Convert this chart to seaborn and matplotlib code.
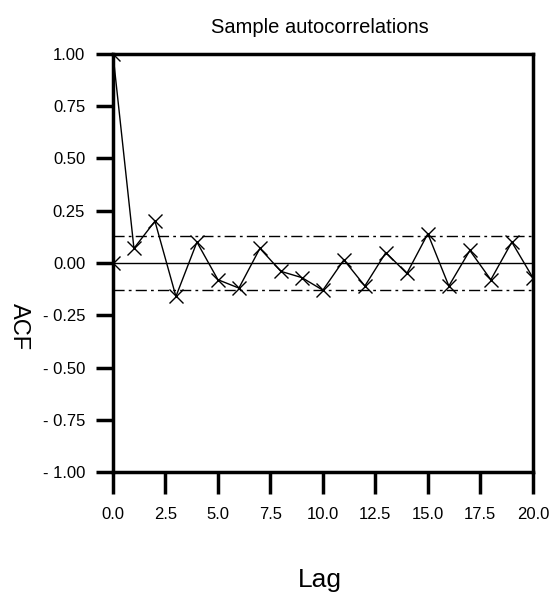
import pandas as pd
import numpy as np
import matplotlib
matplotlib.use('Agg')
import matplotlib.pyplot as plt
import seaborn as sns

# ACF values
lags = list(range(21))
acf = [1.00, 0.07, 0.20, -0.16, 0.10, -0.08, -0.12, 0.07, -0.04, -0.07,
       -0.13, 0.015, -0.11, 0.05, -0.05, 0.14, -0.11, 0.06, -0.08, 0.10, -0.07]
conf_band = 0.13
x_ticks = [0.0, 2.5, 5.0, 7.5, 10.0, 12.5, 15.0, 17.5, 20.0]
y_ticks = [1.00, 0.75, 0.50, 0.25, 0.00, -0.25, -0.50, -0.75, -1.00]

sns.set_style('white')
plt.rcParams['font.family'] = ['Liberation Sans', 'DejaVu Sans']
plt.rcParams['text.color'] = 'black'

df = pd.DataFrame({'lag': lags, 'acf': acf})

fig = plt.figure(figsize=(5.51, 6.05), dpi=100)
ax = fig.add_axes([0.205, 0.2198, 0.762, 0.691])

sns.lineplot(data=df, x='lag', y='acf', ax=ax, color='black', linewidth=1.0,
             marker='x', markersize=10, markeredgewidth=1.0, markeredgecolor='black')
# lone marker at lag 0 on the zero line
ax.plot([0], [0], marker='x', color='black', markersize=10, markeredgewidth=1.0)

ax.axhline(0, color='black', linewidth=1.0)
ax.axhline(conf_band, color='black', linewidth=1.0, linestyle=(0, (8, 3, 2, 3)))
ax.axhline(-conf_band, color='black', linewidth=1.0, linestyle=(0, (8, 3, 2, 3)))

ax.set_xlim(0, 20)
ax.set_ylim(-1, 1)
ax.set_xticks(x_ticks)
ax.set_xticklabels([f'{t:.1f}' for t in x_ticks])
ax.set_yticks(y_ticks)
ax.set_yticklabels([f'{t:.2f}'.replace('-', '- ') for t in y_ticks])
ax.tick_params(axis='x', direction='out', length=16, width=2.5, pad=9, labelsize=12, colors='black')
ax.tick_params(axis='y', direction='out', length=12, width=2.5, pad=8, labelsize=12, colors='black')
ax.tick_params(bottom=True, left=True)
for s in ax.spines.values():
    s.set_linewidth(2.5)
    s.set_color('black')

ax.set_xlabel('')
ax.set_ylabel('')
fig.text(0.58, 0.955, 'Sample autocorrelations', ha='center', va='center', fontsize=14.5, color='black')
fig.text(0.58, 0.042, 'Lag', ha='center', va='center', fontsize=19, color='black')
fig.text(0.035, 0.46, 'ACF', ha='center', va='center', fontsize=17, rotation=-90, color='black')

fig.savefig('out.png', dpi=100)
